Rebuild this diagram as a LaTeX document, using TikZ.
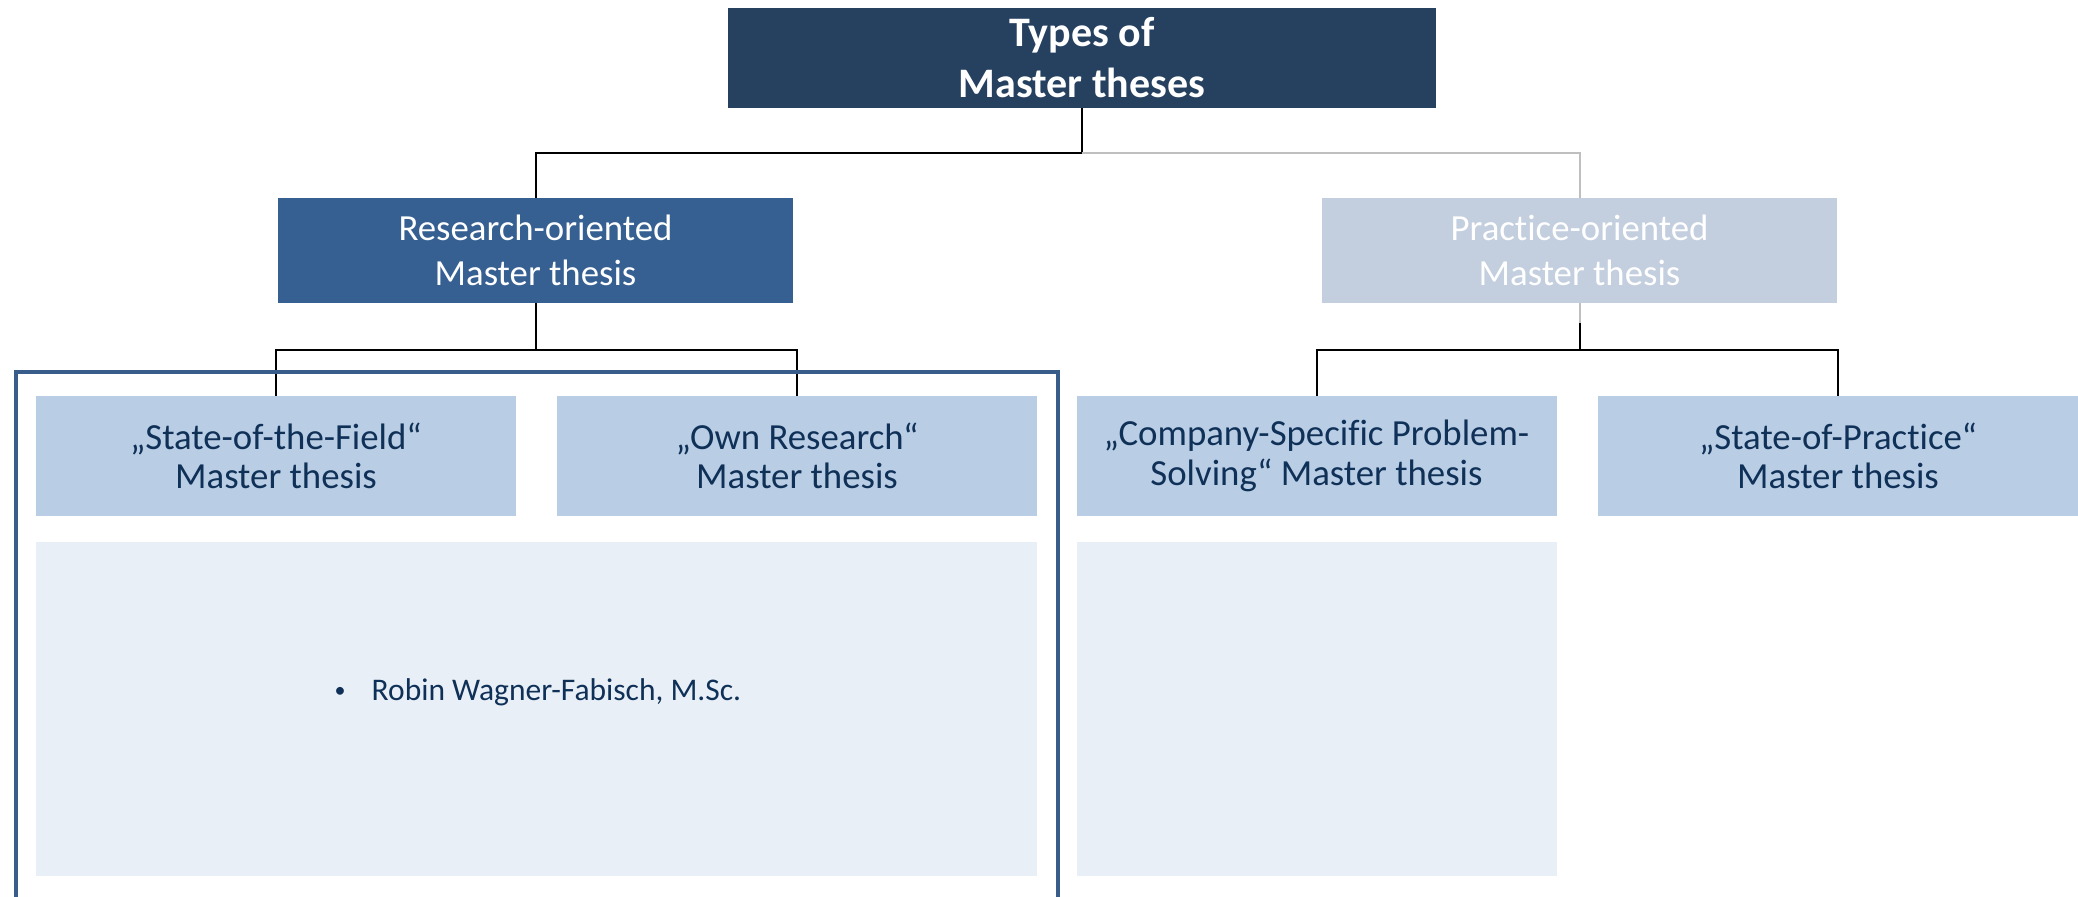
\documentclass[tikz,border=0pt]{standalone}
\usepackage{fontspec}
\setmainfont{Carlito}[Ligatures=NoCommon]
\definecolor{titlenavy}{HTML}{26405F}
\definecolor{researchblue}{HTML}{366092}
\definecolor{practicegrey}{HTML}{C3CFDF}
\definecolor{subblue}{HTML}{B9CDE5}
\definecolor{listblue}{HTML}{E9EFF7}
\definecolor{textnavy}{HTML}{0F3057}
\definecolor{frameblue}{HTML}{385D8A}
\definecolor{linegrey}{HTML}{BFBFBF}
\tikzset{
  titlebox/.style={fill=titlenavy, text=white, inner sep=0pt, align=center,
    minimum width=354pt, minimum height=50pt,
    font=\bfseries\fontsize{21}{25.5}\selectfont},
  mainbox/.style={text=white, inner sep=0pt, align=center,
    minimum width=257.5pt, minimum height=52.3pt,
    font=\fontsize{18.4}{22.2}\selectfont},
  subbox/.style={fill=subblue, text=textnavy, inner sep=0pt, align=center,
    minimum width=240pt, minimum height=60pt,
    font=\fontsize{18.4}{19.7}\selectfont},
  listbox/.style={fill=listblue, inner sep=0pt,
    minimum width=240pt, minimum height=167pt},
  listtext/.style={text=textnavy, inner sep=0pt,
    font=\fontsize{15.75}{19}\selectfont},
  tree/.style={draw=black, line width=1pt},
  greytree/.style={draw=linegrey, line width=1pt},
  frameline/.style={draw=frameblue, line width=2pt}
}
\begin{document}
\begin{tikzpicture}[x=0.5pt,y=0.5pt,yscale=-1,xscale=1]
\useasboundingbox (0,0) rectangle (2078,897);

%Boxes
\node[titlebox] (types) at (1082,58) {Types of\\Master theses};
\node[mainbox, fill=researchblue] (research) at (535.5,250.4) {Research-oriented\\Master thesis};
\node[mainbox, fill=practicegrey] (practice) at (1579.5,250.4) {Practice-oriented\\Master thesis};

\node[subbox] (field) at (276,456) {„State-of-the-Field“\\Master thesis};
\node[subbox] (own) at (797,456) {„Own Research“\\Master thesis};
\node[subbox] (company) at (1316.5,456) {„Company-Specific Problem-\\Solving“ Master thesis};
\node[subbox] (stateprac) at (1838,456) {„State-of-Practice“\\Master thesis};

\node[listbox, minimum width=500.5pt] (researchlist) at (536.5,709) {};
\node[listbox] (companylist) at (1317,709) {};
\node[listtext, anchor=base] (supervisor) at (538,700) {\raisebox{1.2pt}{\fontsize{11}{11}\selectfont •}\hspace{13pt}Robin Wagner-Fabisch, M.Sc.};

%Connectors
\coordinate (typesfork) at (1082,153);
\coordinate (researchfork) at (535.5,350);
\coordinate (practicesplit) at (1579.5,323);
\coordinate (practicefork) at (1579.5,350);

\draw[tree] (types.south) -- (typesfork) -| (research.north);
\draw[greytree] (typesfork) -| (practice.north);
\draw[tree] (research.south) -- (researchfork) -| (field.north);
\draw[tree] (researchfork) -| (own.north);
\draw[greytree] (practice.south) -- (practicesplit);
\draw[tree] (practicesplit) -- (practicefork) -| (company.north);
\draw[tree] (practicefork) -| (stateprac.north);

%Frame round the research-oriented types
\draw[frameline] (16,910) -- (16,372) -- (1058,372) -- (1058,910);
\end{tikzpicture}
\end{document}
